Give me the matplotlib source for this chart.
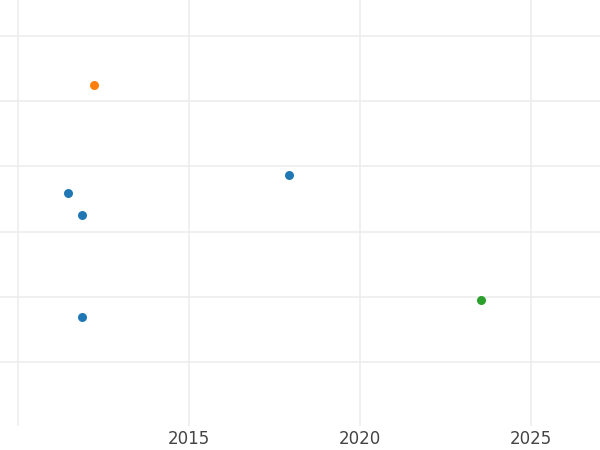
import matplotlib
matplotlib.use("Agg")
import matplotlib.pyplot as plt

# Data (year, value)
blue_x = [2011.46, 2011.87, 2017.92, 2011.87]
blue_y = [3.59, 3.25, 3.87, 1.69]
orange_x = [2012.22]
orange_y = [5.25]
green_x = [2023.54]
green_y = [1.95]

x_ticks = [2010, 2015, 2020, 2025]
x_labels = ["", "2015", "2020", "2025"]
y_ticks = [1, 2, 3, 4, 5, 6]

fig = plt.figure(figsize=(6, 4.5), dpi=100)
ax = fig.add_axes([0, 24 / 450, 1, 426 / 450])

ax.scatter(blue_x, blue_y, s=42, color="#1f77b4", linewidths=0, zorder=3)
ax.scatter(orange_x, orange_y, s=42, color="#ff7f0e", linewidths=0, zorder=3)
ax.scatter(green_x, green_y, s=42, color="#2ca02c", linewidths=0, zorder=3)

ax.set_xlim(2009.47, 2027.02)
ax.set_ylim(0.02, 6.55)
ax.set_xticks(x_ticks)
ax.set_xticklabels(x_labels)
ax.set_yticks(y_ticks)
ax.set_yticklabels([])
ax.tick_params(axis="both", length=0, labelsize=12, labelcolor="#444444", pad=3)
ax.grid(True, color="#ececec", linewidth=1.1)
ax.set_axisbelow(True)
for s in ax.spines.values():
    s.set_visible(False)

fig.savefig("out.png", dpi=100)
